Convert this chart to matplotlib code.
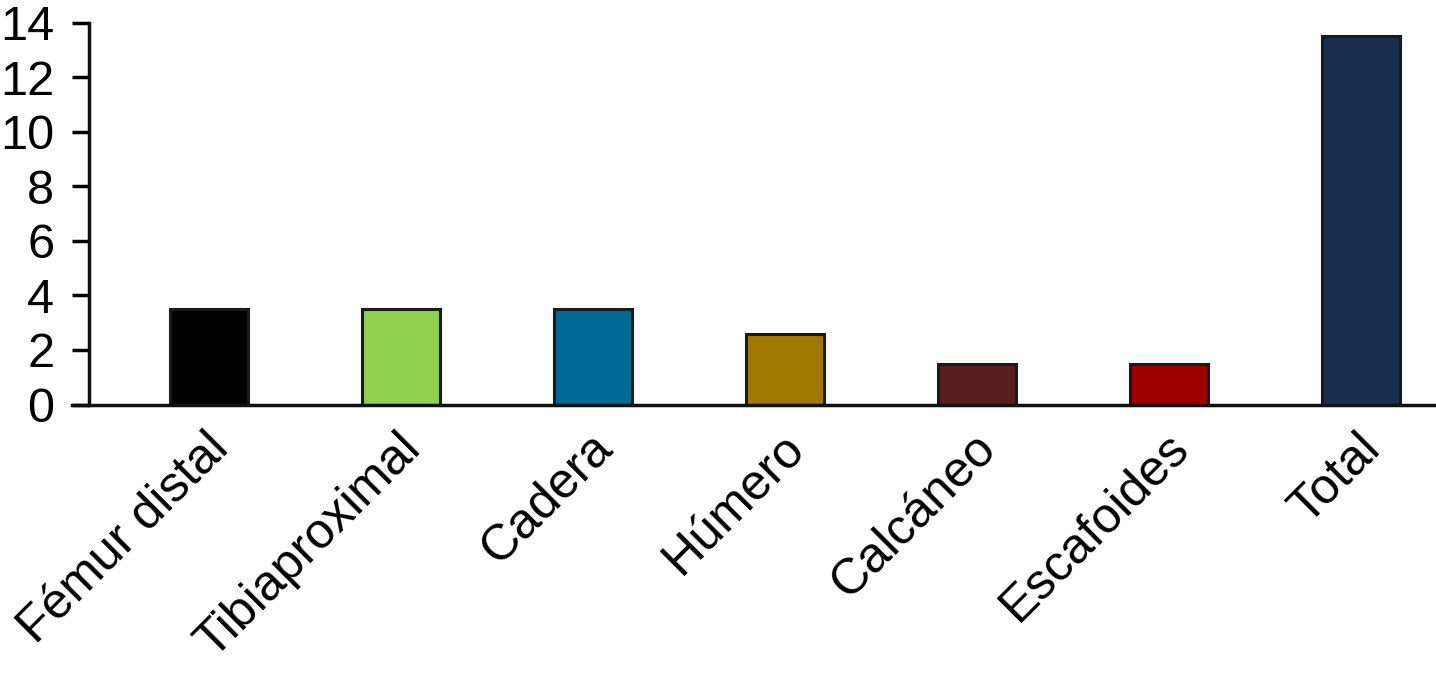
import numpy as np
import matplotlib.pyplot as plt
import matplotlib.transforms as mtransforms

# Porcentaje por localización
categorias = ['Fémur distal', 'Tibiaproximal', 'Cadera', 'Húmero',
              'Calcáneo', 'Escafoides', 'Total']
valores = [3.5, 3.5, 3.5, 2.6, 1.5, 1.5, 13.5]
colores = ['#000000', '#92d050', '#006a94', '#a07800',
           '#5a1e1e', '#a00000', '#1a2e4e']

plt.rcParams['font.family'] = ['Liberation Sans', 'DejaVu Sans']

fig = plt.figure(figsize=(14.36, 6.75), dpi=100)
ax = fig.add_axes([0.062, 0.4007, 0.938, 0.5657])

x = np.arange(len(categorias))
ax.bar(x, valores, width=0.41, color=colores, edgecolor='#1a1a1a', linewidth=2.2)

ax.set_xlim(-0.625, 6.39)
ax.set_ylim(0, 14)
ax.set_yticks(range(0, 15, 2))
ax.tick_params(axis='y', direction='out', length=12, width=2.5, labelsize=35, pad=13)
ax.tick_params(axis='x', length=0, pad=0)

for s in ['top', 'right']:
    ax.spines[s].set_visible(False)
for s in ['left', 'bottom']:
    ax.spines[s].set_linewidth(2.5)
    ax.spines[s].set_color('#111111')
ax.spines['bottom'].set_bounds(-0.625 - 17 / 192, 6.39)

ax.set_xticks(x)
ax.set_xticklabels(categorias, rotation=45, ha='right', va='top',
                   rotation_mode='anchor', fontsize=36)
offset = mtransforms.ScaledTranslation(-4 / 100, -20 / 100, fig.dpi_scale_trans)
for lab in ax.get_xticklabels():
    lab.set_transform(lab.get_transform() + offset)

fig.savefig('out.png', dpi=100)
